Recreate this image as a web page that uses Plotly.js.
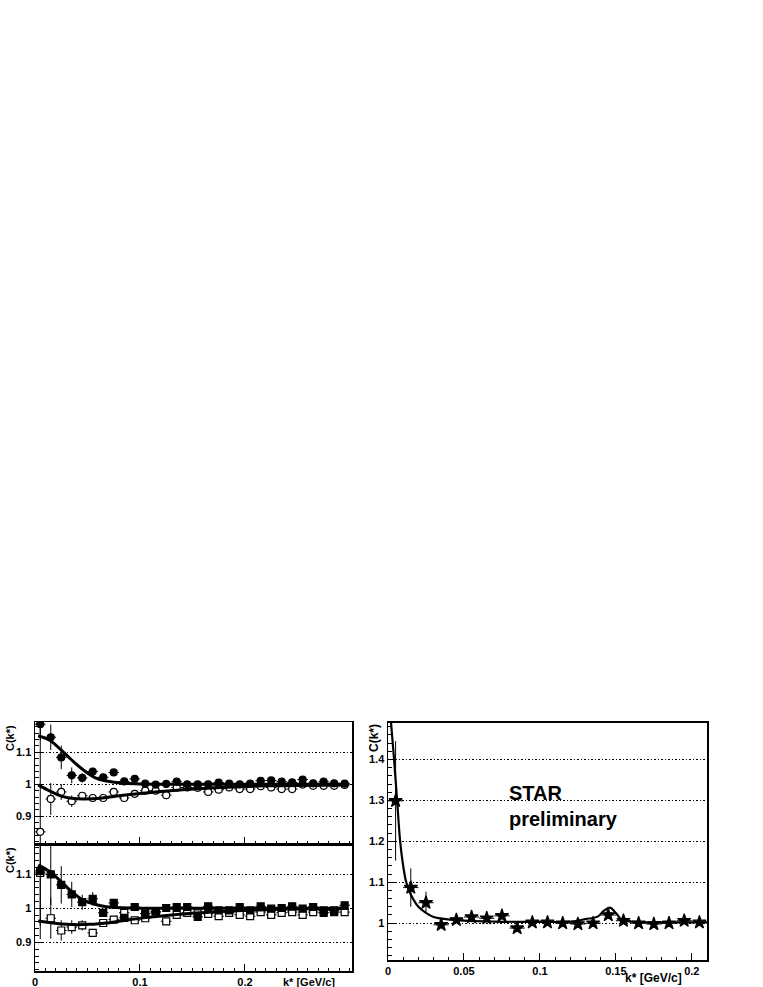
<!DOCTYPE html>
<html>
<head>
<meta charset="utf-8">
<script src="https://cdn.plot.ly/plotly-3.0.1.min.js"></script>
<style>
  html, body { margin: 0; padding: 0; background: #fff; }
  #plot { width: 763px; height: 987px; }
</style>
</head>
<body>
<div id="plot"></div>
<script>
// bin centres, left panels (0.01 wide bins)
var kLeft = [0.005, 0.015, 0.025, 0.035, 0.045, 0.055, 0.065, 0.075, 0.085, 0.095,
             0.105, 0.115, 0.125, 0.135, 0.145, 0.155, 0.165, 0.175, 0.185, 0.195,
             0.205, 0.215, 0.225, 0.235, 0.245, 0.255, 0.265, 0.275, 0.285, 0.295];

// top left: filled / open circles
var topFilled = [1.188, 1.147, 1.084, 1.028, 1.020, 1.040, 1.022, 1.037, 1.009, 1.017,
                 1.002, 0.999, 1.001, 1.008, 1.000, 1.000, 1.000, 1.005, 1.002, 1.000,
                 1.002, 1.011, 1.012, 1.008, 1.006, 1.015, 1.003, 1.008, 1.003, 1.002];
var topFilledErr = [0.05, 0.04, 0.037, 0.025, 0.015, 0.012, 0.01, 0.01, 0.008, 0.008,
                    0.007, 0.007, 0.006, 0.006, 0.006, 0.005, 0.005, 0.005, 0.005, 0.005,
                    0.005, 0.005, 0.005, 0.005, 0.005, 0.005, 0.005, 0.005, 0.005, 0.005];
var topOpen = [0.851, 0.954, 0.976, 0.947, 0.964, 0.957, 0.957, 0.976, 0.957, 0.970,
               0.980, 0.980, 0.966, 0.990, 0.990, 0.989, 0.976, 0.983, 0.990, 0.985,
               0.985, 0.994, 0.990, 0.985, 0.985, 0.999, 0.995, 0.995, 0.995, 0.998];
var topOpenErr = [0.5, 0.05, 0.025, 0.018, 0.012, 0.01, 0.009, 0.008, 0.008, 0.007,
                  0.007, 0.006, 0.006, 0.006, 0.005, 0.005, 0.005, 0.005, 0.005, 0.005,
                  0.005, 0.005, 0.005, 0.005, 0.005, 0.005, 0.005, 0.005, 0.005, 0.005];

// bottom left: filled / open squares
var botFilled = [1.110, 1.100, 1.069, 1.041, 1.018, 1.028, 0.987, 1.016, 0.972, 1.004,
                 0.985, 0.991, 1.001, 1.004, 1.004, 0.975, 1.006, 0.994, 0.994, 1.004,
                 0.994, 1.006, 0.999, 1.001, 1.006, 0.999, 1.004, 0.987, 0.989, 1.009];
var botFilledErr = [0.2, 0.09, 0.055, 0.037, 0.022, 0.02, 0.012, 0.012, 0.01, 0.008,
                    0.008, 0.007, 0.007, 0.006, 0.006, 0.006, 0.006, 0.005, 0.005, 0.005,
                    0.005, 0.005, 0.005, 0.005, 0.005, 0.005, 0.005, 0.005, 0.005, 0.005];
var botOpen = [1.104, 0.971, 0.935, 0.945, 0.950, 0.928, 0.957, 0.967, 0.987, 0.965,
               0.971, 0.987, 0.962, 0.981, 0.987, 0.985, 0.984, 0.977, 0.987, 0.981,
               0.977, 0.989, 0.981, 0.987, 0.989, 0.981, 0.989, 0.994, 0.994, 0.989];
var botOpenErr = [0.155, 0.06, 0.03, 0.02, 0.015, 0.012, 0.01, 0.008, 0.008, 0.007,
                  0.007, 0.006, 0.006, 0.006, 0.006, 0.005, 0.005, 0.005, 0.005, 0.005,
                  0.005, 0.005, 0.005, 0.005, 0.005, 0.005, 0.005, 0.005, 0.005, 0.005];

// fit curves
var fitTopFilledK = [0.003, 0.014, 0.025, 0.035, 0.046, 0.057, 0.068, 0.086, 0.103, 0.15, 0.2, 0.25, 0.298];
var fitTopFilledC = [1.152, 1.138, 1.107, 1.076, 1.045, 1.021, 1.010, 1.003, 1.001, 1.0, 1.0, 1.0, 1.0];
var fitTopOpenK = [0.003, 0.014, 0.025, 0.035, 0.046, 0.062, 0.078, 0.103, 0.135, 0.17, 0.22, 0.298];
var fitTopOpenC = [0.998, 0.979, 0.963, 0.956, 0.954, 0.956, 0.963, 0.972, 0.981, 0.989, 0.995, 0.998];
var fitBotFilledK = [0.003, 0.014, 0.025, 0.035, 0.046, 0.057, 0.068, 0.094, 0.15, 0.2, 0.25, 0.298];
var fitBotFilledC = [1.127, 1.108, 1.078, 1.049, 1.024, 1.012, 1.005, 1.001, 1.0, 1.0, 1.0, 1.0];
var fitBotOpenK = [0.003, 0.03, 0.052, 0.071, 0.103, 0.135, 0.173, 0.22, 0.298];
var fitBotOpenC = [0.963, 0.953, 0.953, 0.958, 0.972, 0.982, 0.990, 0.996, 1.0];

// right panel: stars
var kRight = [0.005, 0.015, 0.025, 0.035, 0.045, 0.055, 0.065, 0.075, 0.085, 0.095, 0.105,
              0.115, 0.125, 0.135, 0.145, 0.155, 0.165, 0.175, 0.185, 0.195, 0.205];
var cRight = [1.299, 1.087, 1.050, 0.996, 1.008, 1.015, 1.012, 1.018, 0.988, 1.002, 1.002,
              1.000, 0.998, 1.000, 1.020, 1.006, 1.000, 0.998, 1.000, 1.006, 1.002];
var cRightErr = [0.146, 0.047, 0.027, 0.008, 0.006, 0.006, 0.005, 0.005, 0.005, 0.004, 0.004,
                 0.004, 0.004, 0.004, 0.004, 0.004, 0.004, 0.004, 0.004, 0.004, 0.004];
var fitRightK = [0.002, 0.004, 0.006, 0.008, 0.010, 0.012, 0.015, 0.020, 0.025, 0.030, 0.040,
                 0.050, 0.070, 0.100, 0.120, 0.130, 0.138, 0.142, 0.146, 0.150, 0.154, 0.160, 0.210];
var fitRightC = [1.49, 1.40, 1.30, 1.20, 1.14, 1.10, 1.07, 1.04, 1.025, 1.015, 1.009,
                 1.006, 1.004, 1.003, 1.004, 1.010, 1.016, 1.030, 1.038, 1.025, 1.008, 1.004, 1.002];

var leftTicks = [0, 0.1, 0.2];
var rightTicks = [0, 0.05, 0.1, 0.15, 0.2];
var leftYTicks = [0.9, 1, 1.1];
var rightYTicks = [1, 1.1, 1.2, 1.3, 1.4];

var W = 763, H = 987;
function px(x) { return x / W; }
function py(y) { return 1 - y / H; }

var FAM = 'Liberation Sans, Arial, sans-serif';
var tickFont = {family: FAM, size: 11, color: '#000', weight: 'bold'};

function pts(x, y, err, sym, xa, ya, size) {
  return {
    x: x, y: y, xaxis: xa, yaxis: ya, type: 'scatter', mode: 'markers',
    marker: {symbol: sym, size: size, color: '#000', line: {color: '#000', width: 1.2}},
    error_y: {type: 'data', array: err, visible: true, color: '#000', thickness: 1, width: 0},
    error_x: {type: 'constant', value: 0.005, visible: true, color: '#000', thickness: 1, width: 0},
    showlegend: false, hoverinfo: 'x+y'
  };
}
function openPts(x, y, err, sym, xa, ya, size) {
  var t = pts(x, y, err, sym, xa, ya, size);
  t.marker.color = '#fff';
  return t;
}
function fit(x, y, xa, ya, w) {
  return {x: x, y: y, xaxis: xa, yaxis: ya, type: 'scatter', mode: 'lines',
          line: {color: '#000', width: w, shape: 'spline'}, showlegend: false, hoverinfo: 'skip'};
}

var data = [
  openPts(kLeft, topOpen, topOpenErr, 'circle', 'x', 'y', 7),
  pts(kLeft, topFilled, topFilledErr, 'circle', 'x', 'y', 7),
  fit(fitTopFilledK, fitTopFilledC, 'x', 'y', 3),
  fit(fitTopOpenK, fitTopOpenC, 'x', 'y', 3),
  openPts(kLeft, botOpen, botOpenErr, 'square', 'x2', 'y2', 7),
  pts(kLeft, botFilled, botFilledErr, 'square', 'x2', 'y2', 7),
  fit(fitBotFilledK, fitBotFilledC, 'x2', 'y2', 3),
  fit(fitBotOpenK, fitBotOpenC, 'x2', 'y2', 3),
  pts(kRight, cRight, cRightErr, 'star', 'x3', 'y3', 10),
  fit(fitRightK, fitRightC, 'x3', 'y3', 2.2)
];

function xAxis(dom, anchor, range, vals, labels) {
  return {
    domain: dom, anchor: anchor, range: range, tickmode: 'array', tickvals: vals,
    showticklabels: labels, tickfont: tickFont, ticks: 'inside', ticklen: 7,
    tickcolor: '#000', tickwidth: 1, showline: true, linecolor: '#000', linewidth: 1.5,
    mirror: true, showgrid: false, zeroline: false,
    minor: {dtick: 0.01, tick0: 0, ticks: 'inside', ticklen: 3, tickcolor: '#000', showgrid: false}
  };
}
function yAxis(dom, anchor, range, vals) {
  return {
    domain: dom, anchor: anchor, range: range, tickmode: 'array', tickvals: vals,
    tickfont: tickFont, ticks: 'inside', ticklen: 7,
    tickcolor: '#000', tickwidth: 1, showline: true, linecolor: '#000', linewidth: 1.5,
    mirror: true, zeroline: false,
    showgrid: true, gridcolor: '#000', gridwidth: 1, griddash: '1.5px,2px',
    minor: {dtick: 0.02, tick0: 0, ticks: 'inside', ticklen: 4, tickcolor: '#000', showgrid: false}
  };
}

var titleFont = {family: FAM, size: 11, color: '#000', weight: 'bold'};

var layout = {
  width: W, height: H,
  margin: {l: 0, r: 0, t: 0, b: 0},
  paper_bgcolor: '#fff', plot_bgcolor: '#fff',
  xaxis: xAxis([px(35), px(352)], 'y', [0, 0.302], leftTicks, false),
  yaxis: yAxis([py(844), py(722)], 'x', [0.813, 1.195], leftYTicks),
  xaxis2: xAxis([px(35), px(352)], 'y2', [0, 0.302], leftTicks, true),
  yaxis2: yAxis([py(971), py(844)], 'x2', [0.816, 1.189], leftYTicks),
  xaxis3: xAxis([px(388), px(707)], 'y3', [0, 0.21], rightTicks, true),
  yaxis3: yAxis([py(960), py(722.7)], 'x3', [0.91, 1.49], rightYTicks),
  annotations: [
    {text: 'C(k*)', xref: 'paper', yref: 'paper', x: px(10), y: py(723), textangle: -90,
     xanchor: 'center', yanchor: 'top', showarrow: false, font: titleFont},
    {text: 'C(k*)', xref: 'paper', yref: 'paper', x: px(10), y: py(845), textangle: -90,
     xanchor: 'center', yanchor: 'top', showarrow: false, font: titleFont},
    {text: 'C(k*)', xref: 'paper', yref: 'paper', x: px(374), y: py(722), textangle: -90,
     xanchor: 'center', yanchor: 'top', showarrow: false, font: {family: FAM, size: 12, color: '#000', weight: 'bold'}},
    {text: 'k* [GeV/c]', xref: 'paper', yref: 'paper', x: px(337), y: py(982),
     xanchor: 'right', yanchor: 'middle', showarrow: false, font: titleFont},
    {text: 'k* [GeV/c]', xref: 'paper', yref: 'paper', x: px(684), y: py(978),
     xanchor: 'right', yanchor: 'middle', showarrow: false, font: {family: FAM, size: 12, color: '#000', weight: 'bold'}},
    {text: 'STAR<br>preliminary', xref: 'paper', yref: 'paper', x: px(508), y: py(781),
     xanchor: 'left', yanchor: 'top', align: 'left', showarrow: false, borderpad: 0,
     font: {family: FAM, size: 20, color: '#000', weight: 'bold'}}
  ]
};

Plotly.newPlot('plot', data, layout, {staticPlot: true});
</script>
</body>
</html>
